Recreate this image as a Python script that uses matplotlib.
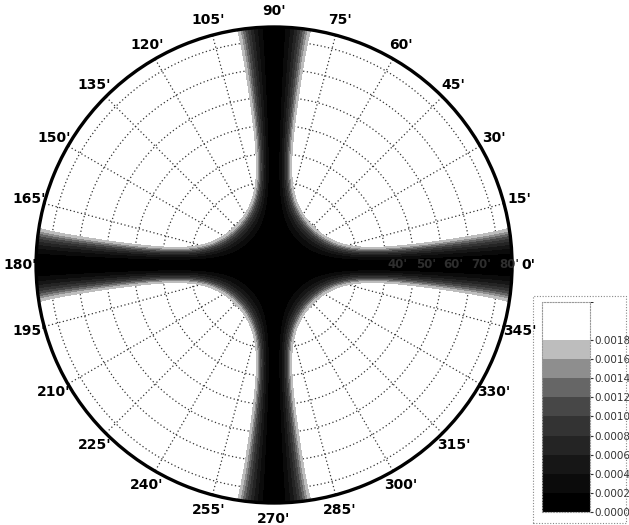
import numpy as np
import matplotlib
matplotlib.use("Agg")
import matplotlib.pyplot as plt
from matplotlib.patches import Rectangle
from matplotlib.colors import ListedColormap, BoundaryNorm
from matplotlib.cm import ScalarMappable

# ---- data ----
theta_ticks = list(range(0, 360, 15))
theta_labels = [f"{a}'" for a in theta_ticks]
r_ticks = [10, 20, 30, 40, 50, 60, 70, 80]
r_labels = [f"{v}'" for v in r_ticks]
r_max = 85
levels = [0.0, 0.0002, 0.0004, 0.0006, 0.0008, 0.0010, 0.0012, 0.0014, 0.0016, 0.0018]
band_colors = ["#000000", "#0b0b0b", "#161616", "#242424", "#333333", "#474747",
               "#666666", "#8e8e8e", "#bdbdbd"]
top_color = "#ffffff"
top_level = 0.0022
amplitude = 0.025
r_half = 32.6
r_exponent = 5

# field: cross-shaped minimum along the axes
th = np.radians(np.linspace(0, 360, 1441))
rr = np.linspace(0, r_max, 400)
TH, RR = np.meshgrid(th, rr)
s = (RR / r_half) ** r_exponent
h = s / (1 + s) * np.cos(np.radians(RR)) ** 0.1
F = amplitude * np.sin(2 * TH) ** 2 * h

fig = plt.figure(figsize=(6.29, 5.25), dpi=100)
ax = fig.add_axes([0.0572, 0.0419, 0.757, 0.9067], projection="polar")
ax.set_axisbelow(True)
cs = ax.contourf(TH, RR, F, levels=levels, colors=band_colors, zorder=1)
ax.set_ylim(0, r_max)
ax.set_thetagrids(theta_ticks, theta_labels, fontsize=10, fontweight="bold")
ax.set_rgrids(r_ticks, [""] * len(r_ticks))
ax.grid(True, color="#333333", linestyle=(0, (1, 2)), linewidth=0.9)
ax.spines["polar"].set_linewidth(2.4)
ax.spines["polar"].set_color("black")
ax.spines["polar"].set_zorder(4)
ax.tick_params(axis="x", pad=1)
for v, lab in zip(r_ticks, r_labels):
    if v >= 40:
        ax.text(0, v + 0.6, lab, ha="left", va="center", fontsize=8.5,
                fontweight="bold", color="#2e2e2e", zorder=5)

# colorbar with dotted frame
box = Rectangle((0.847, 0.004), 0.149, 0.432, transform=fig.transFigure,
                fill=False, linestyle=(0, (1, 1.5)), edgecolor="#888888", linewidth=0.8)
fig.patches.append(box)
cb_bounds = levels + [top_level]
cmap = ListedColormap(band_colors + [top_color])
norm = BoundaryNorm(cb_bounds, cmap.N)
cax = fig.add_axes([0.862, 0.025, 0.076, 0.40])
cb = fig.colorbar(ScalarMappable(norm=norm, cmap=cmap), cax=cax,
                  boundaries=cb_bounds, spacing="proportional")
cb.set_ticks(levels)
cb.set_ticklabels([f"{v:.4f}" for v in levels])
cb.ax.tick_params(labelsize=7.5, length=2, colors="#333333", pad=1)
cb.outline.set_linestyle((0, (1, 1.5)))
cb.outline.set_edgecolor("#999999")
cb.outline.set_linewidth(0.8)

fig.savefig("out.png", dpi=100)
